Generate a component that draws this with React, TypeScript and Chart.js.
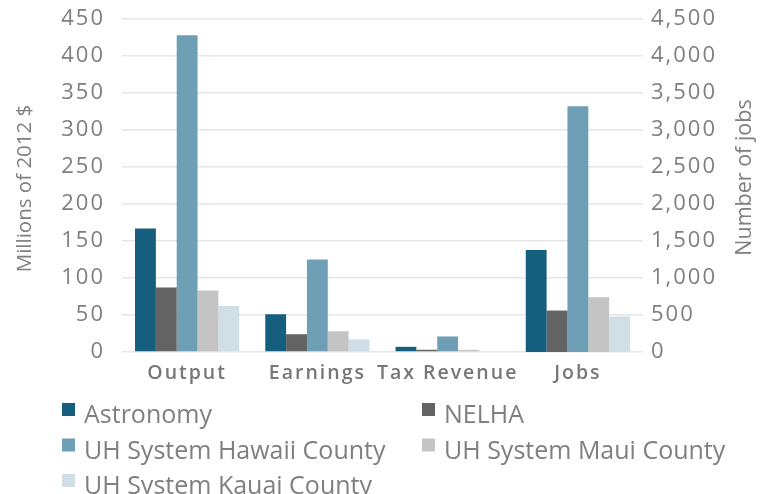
import React, { useEffect, useRef } from "react";
import { Chart, registerables } from "chart.js";

Chart.register(...registerables);

const categories = ["Output", "Earnings", "Tax Revenue", "Jobs"];
const seriesNames = [
  "Astronomy",
  "NELHA",
  "UH System Hawaii County",
  "UH System Maui County",
  "UH System Kauai County",
];
const seriesColors = ["#165e7e", "#636363", "#6f9fb4", "#c4c4c5", "#d0dfe6"];
// Millions of 2012 $ for Output, Earnings, Tax Revenue
const astronomyMoney = [167, 51, 7];
const nelhaMoney = [87, 24, 3];
const hawaiiMoney = [428, 125, 21];
const mauiMoney = [83, 28, 3];
const kauaiMoney = [62, 17, 0];
// Number of jobs
const astronomyJobs = 1380;
const nelhaJobs = 560;
const hawaiiJobs = 3320;
const mauiJobs = 740;
const kauaiJobs = 480;

const leftTicksMax = 450;
const leftStep = 50;
const rightTicksMax = 4500;
const rightStep = 500;

const leftTitle = "Millions of 2012 $";
const rightTitle = "Number of jobs";

const FONT = "'Open Sans', 'DejaVu Sans', sans-serif";
const GREY = "#7f7f7f";

export default function App() {
  const ref = useRef<HTMLCanvasElement | null>(null);
  useEffect(() => {
    const canvas = ref.current!;

    const money = [astronomyMoney, nelhaMoney, hawaiiMoney, mauiMoney, kauaiMoney];
    const jobs = [astronomyJobs, nelhaJobs, hawaiiJobs, mauiJobs, kauaiJobs];
    const datasets: any[] = [];
    money.forEach((arr, i) => {
      datasets.push({
        label: seriesNames[i],
        data: [...arr, null],
        backgroundColor: seriesColors[i],
        yAxisID: "y",
        skipNull: true,
      });
    });
    jobs.forEach((v, i) => {
      datasets.push({
        label: seriesNames[i] + " (jobs)",
        data: [null, null, null, v],
        backgroundColor: seriesColors[i],
        yAxisID: "y2",
        skipNull: true,
      });
    });

    const extras = {
      id: "extras",
      beforeUpdate(chart: any) {
        chart.ctx.letterSpacing = "2px";
      },
      beforeDraw(chart: any) {
        chart.ctx.letterSpacing = "2px";
      },
      afterDraw(chart: any) {
        const ctx = chart.ctx;
        const ca = chart.chartArea;
        const midY = (ca.top + ca.bottom) / 2;
        // axis titles, reading bottom-to-top
        ctx.save();
        ctx.letterSpacing = "0px";
        ctx.font = `20.5px ${FONT}`;
        ctx.fillStyle = GREY;
        ctx.textAlign = "center";
        ctx.textBaseline = "middle";
        ctx.translate(25, midY + 3);
        ctx.rotate(-Math.PI / 2);
        ctx.fillText(leftTitle, 0, 0);
        ctx.restore();

        ctx.save();
        ctx.letterSpacing = "0px";
        ctx.font = `21.5px ${FONT}`;
        ctx.fillStyle = GREY;
        ctx.textAlign = "center";
        ctx.textBaseline = "middle";
        ctx.translate(745, midY - 8);
        ctx.rotate(-Math.PI / 2);
        ctx.fillText(rightTitle, 0, 0);
        ctx.restore();

        // legend
        ctx.save();
        ctx.letterSpacing = "0px";
        ctx.font = `25px ${FONT}`;
        ctx.textBaseline = "alphabetic";
        ctx.textAlign = "left";
        const cols = [62, 422];
        const rows = [423, 458.5, 494];
        seriesNames.forEach((name, i) => {
          const x = cols[i % 2];
          const y = rows[Math.floor(i / 2)];
          ctx.fillStyle = seriesColors[i];
          ctx.fillRect(x, y - 20, 13, 13);
          ctx.fillStyle = GREY;
          ctx.fillText(name, x + 22, y);
        });
        ctx.restore();
      },
    };

    const chart = new Chart(canvas, {
      type: "bar",
      data: { labels: categories, datasets },
      options: {
        animation: false,
        responsive: false,
        maintainAspectRatio: false,
        layout: { padding: { top: 19, left: 0, right: 0, bottom: 0 } },
        datasets: { bar: { categoryPercentage: 0.8, barPercentage: 1.0 } },
        plugins: { legend: { display: false }, tooltip: { enabled: false } },
        scales: {
          x: {
            grid: { display: false },
            border: { display: false },
            ticks: {
              color: "#777777",
              font: { family: FONT, size: 19.5, weight: "600" },
              padding: 2,
              maxRotation: 0,
              autoSkip: false,
            },
            afterFit(s: any) {
              s.height = 494 - 352;
              s.paddingLeft = 0;
              s.paddingRight = 0;
            },
          },
          y: {
            position: "left",
            min: 0,
            max: leftTicksMax,
            border: { display: false },
            grid: { color: "#e6e6e6", lineWidth: 1.5, drawTicks: false },
            ticks: {
              stepSize: leftStep,
              color: GREY,
              font: { family: FONT, size: 22 },
              padding: 17,
            },
            afterFit(s: any) {
              s.width = 122;
              s.paddingTop = 0;
              s.paddingBottom = 0;
            },
          },
          y2: {
            position: "right",
            min: 0,
            max: rightTicksMax,
            border: { display: false },
            grid: { display: false, drawTicks: false },
            ticks: {
              stepSize: rightStep,
              color: GREY,
              font: { family: FONT, size: 22 },
              padding: 8,
              callback: (v: any) => Number(v).toLocaleString("en-US"),
            },
            afterFit(s: any) {
              s.width = 766 - 643;
              s.paddingTop = 0;
              s.paddingBottom = 0;
            },
          },
        },
      },
      plugins: [extras],
    });
    return () => chart.destroy();
  }, []);

  return (
    <div style={{ position: "absolute", left: 0, top: 0, width: 766, height: 494, background: "#fff" }}>
      <canvas ref={ref} width={766} height={494} style={{ width: 766, height: 494, display: "block" }} />
    </div>
  );
}
